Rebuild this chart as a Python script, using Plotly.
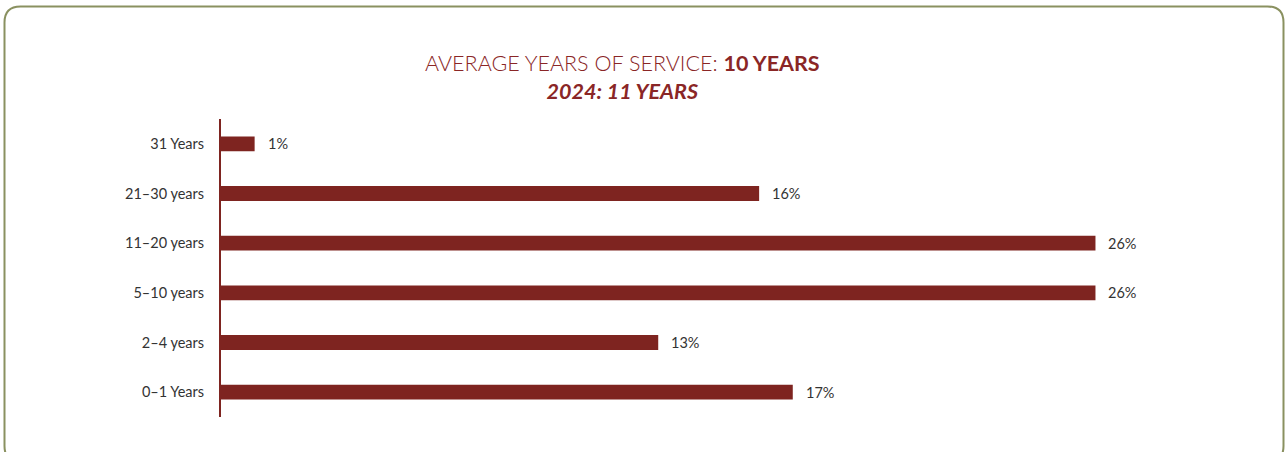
import plotly.graph_objects as go

# Share of staff by length of service
categories = ["0–1 Years", "2–4 years", "5–10 years", "11–20 years", "21–30 years", "31 Years"]
shares = [17, 13, 26, 26, 16, 1]
value_labels = [f"{v}%" for v in shares]

BAR = "#7e2420"
TITLE = "#8a2626"
TEXT = "#333333"
BORDER = "#8a9160"
FONT = "Lato"

W, H = 1285, 452
L, R, T, B = 221, 55, 119, 35
plot_w = W - L - R
plot_h = H - T - B


def px_x(x):
    return (x - L) / plot_w


def px_y(y):
    return (H - B - y) / plot_h


fig = go.Figure(
    go.Bar(
        x=shares,
        y=categories,
        orientation="h",
        marker=dict(color=BAR, line=dict(width=0)),
        width=0.3,
        hoverinfo="skip",
    )
)

# value labels just past the end of each bar
for cat, v, lab in zip(categories, shares, value_labels):
    fig.add_annotation(
        x=v, y=cat, text=lab, showarrow=False,
        xanchor="left", xshift=11,
        font=dict(family=FONT, size=14.5, color=TEXT),
    )

# rounded frame around the chart
x0, x1, y0, y1, r = 4.5, 1283.5, 6.5, 462, 16
path = (
    f"M {px_x(x0 + r)},{px_y(y0)} L {px_x(x1 - r)},{px_y(y0)} "
    f"Q {px_x(x1)},{px_y(y0)} {px_x(x1)},{px_y(y0 + r)} "
    f"L {px_x(x1)},{px_y(y1 - r)} "
    f"Q {px_x(x1)},{px_y(y1)} {px_x(x1 - r)},{px_y(y1)} "
    f"L {px_x(x0 + r)},{px_y(y1)} "
    f"Q {px_x(x0)},{px_y(y1)} {px_x(x0)},{px_y(y1 - r)} "
    f"L {px_x(x0)},{px_y(y0 + r)} "
    f"Q {px_x(x0)},{px_y(y0)} {px_x(x0 + r)},{px_y(y0)} Z"
)
fig.add_shape(type="path", path=path, xref="paper", yref="paper",
              line=dict(color=BORDER, width=2), layer="below")

# heading
fig.add_annotation(
    xref="paper", yref="paper",
    x=px_x(622), y=px_y(77), xanchor="center", yanchor="middle",
    showarrow=False,
    text=("<span style='font-weight:300'>AVERAGE YEARS OF SERVICE: </span><b>10 YEARS</b>"
          "<br><b><i>2024: 11 YEARS</i></b>"),
    font=dict(family=FONT, size=21.5, color=TITLE),
    align="center",
)

fig.update_layout(
    width=W, height=H,
    margin=dict(l=L, r=R, t=T, b=B),
    paper_bgcolor="white", plot_bgcolor="white",
    showlegend=False,
    bargap=0.7,
    xaxis=dict(range=[0, 30], visible=False, fixedrange=True),
    yaxis=dict(
        categoryorder="array", categoryarray=categories,
        showline=True, linecolor=BAR, linewidth=2,
        showgrid=False, zeroline=False, ticks="",
        ticklabelstandoff=12,
        tickfont=dict(family=FONT, size=14.5, color=TEXT),
    ),
)

fig.write_html("out.html")
